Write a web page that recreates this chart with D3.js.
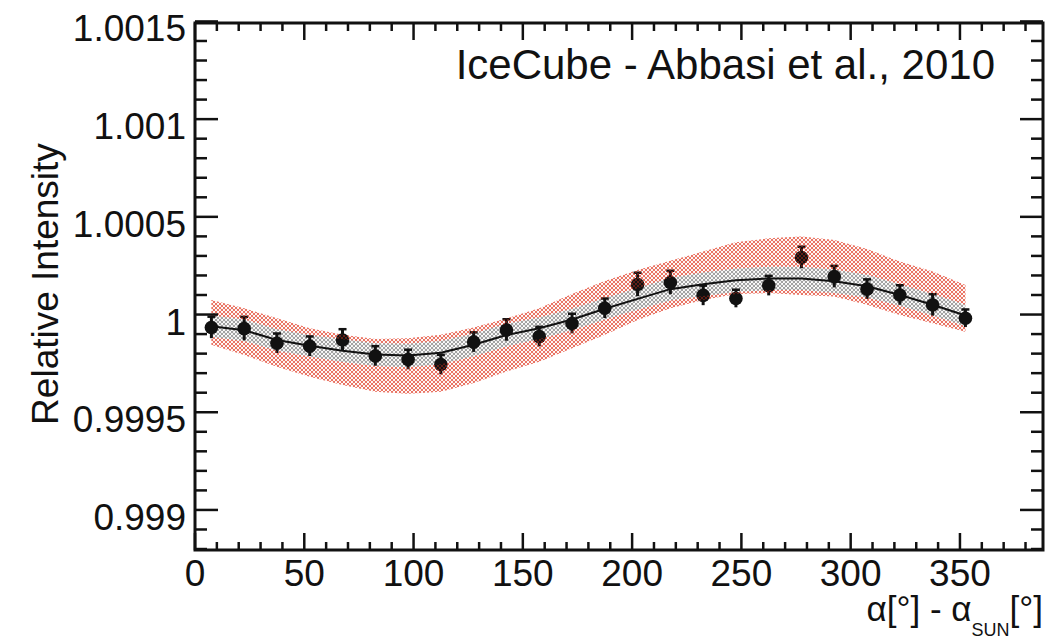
<!DOCTYPE html>
<html>
<head>
<meta charset="utf-8">
<script src="https://cdn.jsdelivr.net/npm/d3@7"></script>
<style>
  html, body { margin: 0; padding: 0; background: #fff; }
  text { font-family: "Liberation Sans", Arial, Helvetica, sans-serif; fill: #111; }
</style>
</head>
<body>
<div class="chart"></div>
<script>
// bin centres (deg) and values, in units of 1e-4 relative to 1
const binCenters = [7.5, 22.5, 37.5, 52.5, 67.5, 82.5, 97.5, 112.5, 127.5, 142.5, 157.5, 172.5,
    187.5, 202.5, 217.5, 232.5, 247.5, 262.5, 277.5, 292.5, 307.5, 322.5, 337.5, 352.5];
const points = [-0.66, -0.72, -1.47, -1.62, -1.30, -2.12, -2.30, -2.56, -1.41, -0.79, -1.13, -0.46,
    0.32, 1.54, 1.64, 0.98, 0.82, 1.48, 2.92, 1.94, 1.30, 1.00, 0.49, -0.19];
const pointErr = [0.55, 0.6, 0.5, 0.5, 0.55, 0.5, 0.5, 0.5, 0.5, 0.55, 0.5, 0.5,
    0.5, 0.6, 0.6, 0.5, 0.45, 0.5, 0.55, 0.55, 0.5, 0.5, 0.55, 0.45];
const fitLine = [-0.60, -0.80, -1.30, -1.60, -1.85, -2.05, -2.10, -1.95, -1.55, -1.05, -0.70, -0.25,
    0.30, 0.80, 1.30, 1.55, 1.75, 1.85, 1.85, 1.70, 1.45, 1.00, 0.50, -0.05];
const statBand = [0.55, 0.55, 0.55, 0.55, 0.58, 0.58, 0.6, 0.6, 0.58, 0.58, 0.55, 0.55,
    0.55, 0.55, 0.58, 0.6, 0.6, 0.6, 0.6, 0.6, 0.58, 0.55, 0.55, 0.55];
const sysTop = [0.75, 0.32, -0.19, -0.70, -1.04, -1.25, -1.21, -1.04, -0.66, -0.20, 0.32, 1.05,
    1.72, 2.28, 2.75, 3.22, 3.70, 3.90, 3.99, 3.82, 3.35, 2.71, 2.20, 1.51];
const sysBottom = [-1.55, -2.07, -2.67, -3.18, -3.60, -3.95, -4.05, -3.95, -3.50, -2.92, -2.41, -1.73,
    -1.04, -0.28, 0.32, 0.75, 1.05, 1.10, 1.00, 0.92, 0.50, -0.02, -0.45, -0.88];

const yMajor = [0.999, 0.9995, 1, 1.0005, 1.001, 1.0015];
const yLabels = ['0.999', '0.9995', '1', '1.0005', '1.001', '1.0015'];
const xMajor = [0, 50, 100, 150, 200, 250, 300, 350];

const title = 'IceCube - Abbasi et al., 2010';

const W = 1062, H = 642;
const margin = {top: 23, right: 19, bottom: 92, left: 195};
const width = W - margin.left - margin.right;
const height = H - margin.top - margin.bottom;

const svg = d3.select('.chart').append('svg')
    .attr('width', W)
    .attr('height', H);

const defs = svg.append('defs');
const makePattern = (id, halo, haloOpacity, dot) => {
    const p = defs.append('pattern')
        .attr('id', id)
        .attr('patternUnits', 'userSpaceOnUse')
        .attr('width', 4).attr('height', 4);
    [[1, 1], [3, 3]].forEach(([cx, cy]) => {
        if (halo) {
            p.append('circle').attr('cx', cx).attr('cy', cy).attr('r', 1.5)
                .attr('fill', halo).attr('opacity', haloOpacity);
        }
        p.append('circle').attr('cx', cx).attr('cy', cy).attr('r', 0.75)
            .attr('fill', dot);
    });
};
makePattern('redDots', '#f8c4bb', 0.45, '#ea3b25');
makePattern('redDotsOnly', null, 0, '#d8301c');
makePattern('grayDots', '#cfcfcf', 0.6, '#444');

const g = svg.append('g')
    .attr('transform', 'translate(' + margin.left + ',' + margin.top + ')');

const x = d3.scaleLinear().domain([0, 388]).range([0, width]);
const y = d3.scaleLinear().domain([0.998795, 1.001492]).range([height, 0]);
const v = (d) => 1 + d * 1e-4;

const data = binCenters.map((b, i) => ({
    b, p: points[i], e: pointErr[i], f: fitLine[i], s: statBand[i], hi: sysTop[i], lo: sysBottom[i]
}));

// systematic band (red) outside the statistical band, then statistical band (gray)
const area = (top, bot) => d3.area()
    .x(d => x(d.b))
    .y0(d => y(v(bot(d))))
    .y1(d => y(v(top(d))));
const redUpper = area(d => d.hi, d => Math.min(d.hi, d.f + d.s));
const redLower = area(d => Math.max(d.lo, d.f - d.s), d => d.lo);

g.append('path').datum(data).attr('fill', 'url(#redDots)').attr('d', redUpper);
g.append('path').datum(data).attr('fill', 'url(#redDots)').attr('d', redLower);
g.append('path').datum(data)
    .attr('fill', 'url(#grayDots)')
    .attr('d', area(d => d.f + d.s, d => d.f - d.s));

// fit line
g.append('path').datum(data)
    .attr('fill', 'none')
    .attr('stroke', '#111')
    .attr('stroke-width', 2)
    .attr('d', d3.line().x(d => x(d.b)).y(d => y(v(d.f))));

// data points with error bars
const pts = g.append('g');
pts.selectAll('line.err')
    .data(data).join('line')
    .attr('class', 'err')
    .attr('x1', d => x(d.b)).attr('x2', d => x(d.b))
    .attr('y1', d => y(v(d.p - d.e))).attr('y2', d => y(v(d.p + d.e)))
    .attr('stroke', '#111').attr('stroke-width', 3);
pts.selectAll('line.cap')
    .data(data).join('line')
    .attr('class', 'cap')
    .attr('x1', d => x(d.b) - 4).attr('x2', d => x(d.b) + 4)
    .attr('y1', d => y(v(d.p + d.e))).attr('y2', d => y(v(d.p + d.e)))
    .attr('stroke', '#111').attr('stroke-width', 2.5);
pts.selectAll('circle')
    .data(data).join('circle')
    .attr('cx', d => x(d.b)).attr('cy', d => y(v(d.p)))
    .attr('r', 6.8)
    .attr('fill', '#111');

// red dots of the band show through the markers
g.append('path').datum(data).attr('fill', 'url(#redDotsOnly)').attr('d', redUpper);
g.append('path').datum(data).attr('fill', 'url(#redDotsOnly)').attr('d', redLower);

// axes: ticks drawn inside the frame on all four sides
const frame = g.append('g').attr('stroke', '#111').attr('stroke-width', 2.5);
const xMinor = d3.range(0, 389, 10);
const yMinor = d3.range(0.9988, 1.0015001, 0.0001);

frame.selectAll('line.xt')
    .data(xMinor).join('line')
    .attr('class', 'xt')
    .attr('x1', d => x(d)).attr('x2', d => x(d))
    .attr('y1', height)
    .attr('y2', d => height - (d % 50 === 0 ? 17 : 8));
frame.selectAll('line.xtt')
    .data(xMinor).join('line')
    .attr('class', 'xtt')
    .attr('x1', d => x(d)).attr('x2', d => x(d))
    .attr('y1', 0)
    .attr('y2', d => (d % 50 === 0 ? 17 : 8));

const isMajorY = (d) => yMajor.some(m => Math.abs(m - d) < 1e-7);
frame.selectAll('line.yt')
    .data(yMinor).join('line')
    .attr('class', 'yt')
    .attr('x1', 0)
    .attr('x2', d => isMajorY(d) ? 23 : 12)
    .attr('y1', d => y(d)).attr('y2', d => y(d));
frame.selectAll('line.ytr')
    .data(yMinor).join('line')
    .attr('class', 'ytr')
    .attr('x1', width)
    .attr('x2', d => width - (isMajorY(d) ? 23 : 12))
    .attr('y1', d => y(d)).attr('y2', d => y(d));

frame.append('rect')
    .attr('width', width).attr('height', height)
    .attr('fill', 'none').attr('stroke-width', 3);

// tick labels
g.selectAll('text.yl')
    .data(yMajor).join('text')
    .attr('class', 'yl')
    .attr('x', -9)
    .attr('y', d => y(d) + 20)
    .attr('text-anchor', 'end')
    .style('font-size', '37px')
    .text((d, i) => yLabels[i]);

g.selectAll('text.xl')
    .data(xMajor).join('text')
    .attr('class', 'xl')
    .attr('x', d => x(d))
    .attr('y', height + 36)
    .attr('text-anchor', 'middle')
    .style('font-size', '37px')
    .text(d => d);

// axis titles
svg.append('text')
    .attr('transform', 'translate(58,284) rotate(-90)')
    .attr('text-anchor', 'middle')
    .style('font-size', '37px')
    .text('Relative Intensity');

const xt = svg.append('text')
    .attr('x', margin.left + width)
    .attr('y', 621)
    .attr('text-anchor', 'end')
    .style('font-size', '35px');
xt.append('tspan').text('α[°] - α');
xt.append('tspan').attr('dy', 15).style('font-size', '18px').text('SUN');
xt.append('tspan').attr('dy', -15).text('[°]');

svg.append('text')
    .attr('x', 995)
    .attr('y', 79)
    .attr('text-anchor', 'end')
    .style('font-size', '42px')
    .style('font-weight', 300)
    .text(title);
</script>
</body>
</html>
